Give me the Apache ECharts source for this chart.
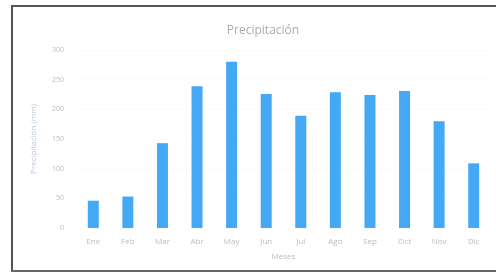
<!DOCTYPE html>
<html>
<head>
<meta charset="utf-8">
<script src="https://cdn.jsdelivr.net/npm/echarts@6/dist/echarts.min.js"></script>
<style>
  html, body { margin: 0; padding: 0; background: #fff; overflow: hidden; width: 496px; height: 275px; }
  .ln { position: absolute; background: #555; }
  #chart { position: absolute; left: 0; top: 0; width: 496px; height: 275px; }
</style>
</head>
<body>
<div class="ln" style="left:11px;top:5px;width:2px;height:267px;"></div>
<div class="ln" style="left:11px;top:5px;width:485px;height:2px;"></div>
<div class="ln" style="left:11px;top:270px;width:485px;height:2px;background:#666;"></div>
<div id="chart"></div>
<script>
// meses y precipitación (mm)
var meses = ['Ene', 'Feb', 'Mar', 'Abr', 'May', 'Jun', 'Jul', 'Ago', 'Sep', 'Oct', 'Nov', 'Dic'];
var precipitacion = [46, 53, 143, 239, 280, 226, 189, 229, 224, 231, 180, 109];
var yTicks = [0, 50, 100, 150, 200, 250, 300];

var chart = echarts.init(document.getElementById('chart'));
chart.setOption({
  backgroundColor: 'transparent',
  title: {
    text: 'Precipitación',
    left: 258,
    top: 20,
    textAlign: 'center',
    textStyle: {
      color: '#ababab',
      fontSize: 12,
      fontWeight: 'normal',
      fontFamily: 'Open Sans'
    }
  },
  grid: {
    left: 76,
    right: 5,
    top: 50,
    bottom: 47
  },
  xAxis: {
    type: 'category',
    data: meses,
    name: 'Meses',
    nameLocation: 'middle',
    nameGap: 25,
    nameTextStyle: { color: '#bcbcbc', fontSize: 8, fontFamily: 'Open Sans' },
    axisLine: { show: false },
    axisTick: { show: false },
    axisLabel: { color: '#bcbcbc', fontSize: 8, margin: 10, fontFamily: 'Open Sans' }
  },
  yAxis: {
    type: 'value',
    min: yTicks[0],
    max: yTicks[yTicks.length - 1],
    interval: 50,
    name: 'Precipitación (mm)',
    nameLocation: 'middle',
    nameGap: 38,
    nameTextStyle: { color: '#bccadb', fontSize: 8, fontFamily: 'Open Sans' },
    axisLine: { show: false },
    axisTick: { show: false },
    splitLine: { show: true, lineStyle: { color: '#fbfbfb' } },
    axisLabel: { color: '#bcbcbc', fontSize: 7, margin: 12, fontFamily: 'Open Sans' }
  },
  series: [{
    type: 'bar',
    data: precipitacion,
    barWidth: 11,
    itemStyle: { color: '#45a8f5' }
  }]
});
</script>
</body>
</html>
